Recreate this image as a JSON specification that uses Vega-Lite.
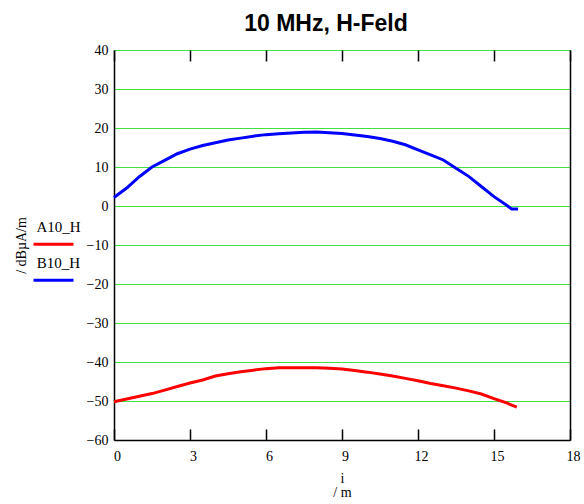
{
  "$schema": "https://vega.github.io/schema/vega-lite/v6.json",
  "autosize": {"type": "none"},
  "width": 456,
  "height": 390,
  "padding": {"left": 114, "top": 50, "right": 14, "bottom": 64},
  "background": "white",
  "title": {"text": "10 MHz, H-Feld", "font": "Liberation Sans", "fontSize": 23, "fontWeight": "bold", "color": "black", "anchor": "middle", "dx": -16, "offset": 7},
  "data": {"values": [
    {"x": 0, "v": 2.2, "s": "B10_H"}, {"x": 0.5, "v": 4.6, "s": "B10_H"}, {"x": 1.0, "v": 7.5, "s": "B10_H"}, {"x": 1.5, "v": 10.0, "s": "B10_H"},
    {"x": 2.0, "v": 11.7, "s": "B10_H"}, {"x": 2.5, "v": 13.4, "s": "B10_H"}, {"x": 3.0, "v": 14.6, "s": "B10_H"}, {"x": 3.5, "v": 15.5, "s": "B10_H"},
    {"x": 4.0, "v": 16.2, "s": "B10_H"}, {"x": 4.5, "v": 16.9, "s": "B10_H"}, {"x": 5.0, "v": 17.4, "s": "B10_H"}, {"x": 5.5, "v": 17.9, "s": "B10_H"},
    {"x": 6.0, "v": 18.3, "s": "B10_H"}, {"x": 6.5, "v": 18.5, "s": "B10_H"}, {"x": 7.0, "v": 18.7, "s": "B10_H"}, {"x": 7.5, "v": 18.9, "s": "B10_H"},
    {"x": 8.0, "v": 19.0, "s": "B10_H"}, {"x": 8.5, "v": 18.8, "s": "B10_H"}, {"x": 9.0, "v": 18.6, "s": "B10_H"}, {"x": 9.5, "v": 18.2, "s": "B10_H"},
    {"x": 10.0, "v": 17.8, "s": "B10_H"}, {"x": 10.5, "v": 17.3, "s": "B10_H"}, {"x": 11.0, "v": 16.6, "s": "B10_H"}, {"x": 11.5, "v": 15.7, "s": "B10_H"},
    {"x": 12.0, "v": 14.4, "s": "B10_H"}, {"x": 12.5, "v": 13.1, "s": "B10_H"}, {"x": 13.0, "v": 11.8, "s": "B10_H"}, {"x": 13.5, "v": 9.7, "s": "B10_H"},
    {"x": 14.0, "v": 7.6, "s": "B10_H"}, {"x": 14.5, "v": 5.0, "s": "B10_H"}, {"x": 15.0, "v": 2.4, "s": "B10_H"}, {"x": 15.5, "v": 0.2, "s": "B10_H"},
    {"x": 15.7, "v": -0.8, "s": "B10_H"}, {"x": 15.95, "v": -0.8, "s": "B10_H"},
    {"x": 0, "v": -50.2, "s": "A10_H"}, {"x": 0.5, "v": -49.5, "s": "A10_H"}, {"x": 1.0, "v": -48.8, "s": "A10_H"}, {"x": 1.5, "v": -48.1, "s": "A10_H"},
    {"x": 2.0, "v": -47.2, "s": "A10_H"}, {"x": 2.5, "v": -46.3, "s": "A10_H"}, {"x": 3.0, "v": -45.4, "s": "A10_H"}, {"x": 3.5, "v": -44.6, "s": "A10_H"},
    {"x": 4.0, "v": -43.6, "s": "A10_H"}, {"x": 4.5, "v": -43.0, "s": "A10_H"}, {"x": 5.0, "v": -42.5, "s": "A10_H"}, {"x": 5.5, "v": -42.1, "s": "A10_H"},
    {"x": 6.0, "v": -41.7, "s": "A10_H"}, {"x": 6.5, "v": -41.5, "s": "A10_H"}, {"x": 7.0, "v": -41.5, "s": "A10_H"}, {"x": 7.5, "v": -41.5, "s": "A10_H"},
    {"x": 8.0, "v": -41.5, "s": "A10_H"}, {"x": 8.5, "v": -41.6, "s": "A10_H"}, {"x": 9.0, "v": -41.8, "s": "A10_H"}, {"x": 9.5, "v": -42.2, "s": "A10_H"},
    {"x": 10.0, "v": -42.6, "s": "A10_H"}, {"x": 10.5, "v": -43.1, "s": "A10_H"}, {"x": 11.0, "v": -43.6, "s": "A10_H"}, {"x": 11.5, "v": -44.2, "s": "A10_H"},
    {"x": 12.0, "v": -44.8, "s": "A10_H"}, {"x": 12.5, "v": -45.5, "s": "A10_H"}, {"x": 13.0, "v": -46.1, "s": "A10_H"}, {"x": 13.5, "v": -46.7, "s": "A10_H"},
    {"x": 14.0, "v": -47.4, "s": "A10_H"}, {"x": 14.5, "v": -48.2, "s": "A10_H"}, {"x": 15.0, "v": -49.4, "s": "A10_H"}, {"x": 15.5, "v": -50.5, "s": "A10_H"},
    {"x": 15.9, "v": -51.6, "s": "A10_H"}
  ]},
  "config": {
    "view": {"stroke": null},
    "axis": {"labelFont": "Liberation Serif", "labelFontSize": 14, "labelColor": "black", "titleFont": "Liberation Serif", "titleFontSize": 14, "titleFontWeight": "normal", "titleColor": "black", "domainColor": "black", "tickColor": "black", "domainWidth": 1.5, "tickWidth": 1.5}
  },
  "layer": [
    {
      "mark": {"type": "line", "strokeWidth": 3},
      "encoding": {
        "x": {"field": "x", "type": "quantitative", "scale": {"domain": [0, 18], "nice": false, "zero": false},
          "axis": {"orient": "bottom", "values": [0, 3, 6, 9, 12, 15, 18], "grid": false, "tickSize": -11, "labelPadding": 20, "labelFlush": false, "labelOffset": 3, "title": ["i", "/ m"], "titlePadding": 8, "titleLineHeight": 14}},
        "y": {"field": "v", "type": "quantitative", "scale": {"domain": [-60, 40], "nice": false, "zero": false},
          "axis": {"orient": "left", "values": [-60, -50, -40, -30, -20, -10, 0, 10, 20, 30, 40], "grid": true, "gridColor": "#3fe03f", "gridWidth": 1.2, "ticks": false, "labelPadding": 6, "labelFlush": false,
            "title": "/ dBµA/m", "titleX": -93, "titleY": 195, "titleAlign": "center", "titleBaseline": "middle", "titleAngle": -90}},
        "color": {"field": "s", "type": "nominal", "scale": {"domain": ["A10_H", "B10_H"], "range": ["#ff0000", "#0000ff"]},
          "legend": {"orient": "none", "legendX": -80.5, "legendY": 165, "title": null, "symbolType": "M-1.08,0.5L1.08,0.5", "symbolSize": 1369, "symbolStrokeWidth": 3, "symbolFillColor": "transparent",
            "labelAlign": "center", "labelOffset": -15, "labelBaseline": "bottom", "labelFont": "Liberation Serif", "labelFontSize": 15, "labelColor": "black", "rowPadding": 0, "padding": 0}}
      }
    },
    {
      "mark": {"type": "line", "opacity": 0},
      "encoding": {
        "x": {"field": "x", "type": "quantitative", "scale": {"domain": [0, 18], "nice": false, "zero": false},
          "axis": {"orient": "top", "values": [0, 3, 6, 9, 12, 15, 18], "grid": false, "labels": false, "domain": false, "tickSize": -11, "title": null}},
        "y": {"field": "v", "type": "quantitative", "scale": {"domain": [-60, 40], "nice": false, "zero": false},
          "axis": {"orient": "right", "grid": false, "labels": false, "ticks": false, "domain": true, "title": null}},
        "detail": {"field": "s"}
      }
    }
  ],
  "resolve": {"axis": {"x": "independent", "y": "independent"}}
}
